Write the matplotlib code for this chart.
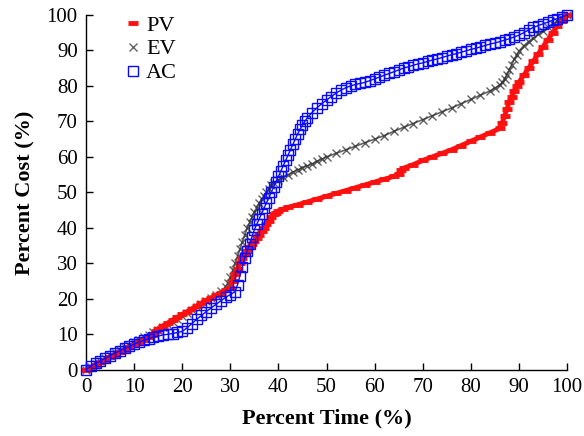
import matplotlib
matplotlib.use("Agg")
import matplotlib.pyplot as plt

# ---- data ----
pv_x = [0, 1, 2, 3, 4, 5, 6, 7, 8, 9, 10, 11, 12, 13, 14, 14.5, 15, 16, 17, 18, 19, 20,
        21, 22, 23, 24, 25, 26, 27, 28, 29, 30, 30.5, 31, 31.5, 32, 32.5, 33, 33.5, 34,
        34.5, 35, 35.5, 36, 36.5, 37, 37.5, 38, 38.5, 39, 39.5, 40, 41, 42, 44, 46, 48,
        50, 52, 54, 56, 58, 60, 62, 64, 65, 65.5, 66, 68, 70, 72, 74, 76, 78, 80, 82, 84,
        86, 86.5, 87, 87.5, 88, 88.5, 89, 89.5, 90, 91, 92, 93, 94, 95, 96, 97, 98, 99, 100]
pv_y = [0, 0.7, 1.4, 2.1, 2.8, 3.5, 4.2, 4.9, 5.6, 6.3, 7, 7.7, 8.4, 9.1, 9.8, 11, 11.6,
        12.4, 13.2, 14, 14.8, 15.6, 16.4, 17.2, 18, 18.8, 19.6, 20.3, 21, 21.7, 22.4, 23,
        25, 27, 28.5, 30, 31.5, 32.5, 33.5, 34.5, 35.5, 36.3, 37, 38, 39, 40, 41, 42, 43,
        43.8, 44.3, 44.8, 45.3, 45.8, 46.5, 47.3, 48.1, 48.9, 49.7, 50.5, 51.3, 52.1, 52.9,
        53.7, 54.5, 55.3, 56.2, 56.8, 57.8, 59, 60, 61, 62, 63.2, 64.4, 65.6, 66.8, 68,
        69.5, 71.5, 73.5, 75.5, 77, 78.5, 80, 81, 83, 85, 87, 89, 91, 93, 95, 96.8, 98.4, 100]

ev_x = [0, 1, 2, 3, 4, 5, 6, 7, 8, 9, 10, 11, 12, 13, 14, 15, 16, 17, 18, 19, 20, 21, 22,
        23, 24, 25, 26, 27, 28, 29, 29.5, 30, 30.5, 31, 31.5, 32, 32.5, 33, 33.5, 34, 34.5,
        35, 35.5, 36, 36.5, 37, 37.5, 38, 38.5, 39, 40, 41, 42, 43, 44, 45, 46, 47, 48, 49,
        50, 52, 54, 56, 58, 60, 62, 64, 66, 68, 70, 72, 74, 76, 78, 80, 82, 84, 85, 86,
        86.5, 87, 87.5, 88, 88.5, 89, 89.5, 90, 91, 92, 93, 94, 95, 96, 97, 98, 99, 100]
ev_y = [0, 0.9, 1.7, 2.5, 3.3, 4.1, 4.9, 5.6, 6.4, 7.1, 7.8, 8.5, 9.2, 9.9, 10.6, 11.3, 12,
        12.7, 13.5, 14.3, 15.1, 15.9, 16.7, 17.6, 18.5, 19.4, 20.3, 21.2, 22.2, 23.3, 24.5,
        26, 28, 30, 32, 34, 36, 38, 40, 41.5, 43, 44.5, 45.7, 47, 48, 49, 50, 51, 52, 52.7,
        53.5, 54.3, 55, 55.7, 56.3, 57, 57.5, 58, 58.7, 59.3, 60, 61, 62, 63, 64, 65, 66,
        67.2, 68.3, 69.4, 70.5, 71.6, 72.7, 73.8, 75, 76.2, 77.4, 78.6, 79.4, 80.2, 81, 82,
        83.2, 84.5, 86, 87.5, 88.7, 89.8, 91.3, 92.5, 93.5, 94.5, 95.5, 96.5, 97.4, 98.3,
        99.2, 100]

ac_x = [0, 1, 2, 3, 4, 5, 6, 7, 8, 9, 10, 11, 12, 13, 14, 15, 16, 17, 18, 19, 20, 21, 22,
        23, 24, 25, 26, 27, 28, 29, 30, 31, 31.5, 32, 32.5, 33, 33.5, 34, 34.5, 35, 35.5,
        36, 36.5, 37, 37.5, 38, 38.5, 39, 39.5, 40, 40.5, 41, 41.5, 42, 42.5, 43, 43.5, 44,
        44.5, 45, 45.5, 46, 47, 48, 49, 50, 51, 52, 53, 54, 55, 56, 57, 58, 59, 60, 61, 62,
        63, 64, 65, 66, 67, 68, 69, 70, 71, 72, 73, 74, 75, 76, 77, 78, 79, 80, 81, 82, 83,
        84, 85, 86, 87, 88, 89, 90, 91, 92, 93, 94, 95, 96, 97, 98, 99, 100]
ac_y = [0, 1, 1.8, 2.5, 3.2, 4, 4.7, 5.3, 6, 6.6, 7.2, 7.8, 8.3, 8.8, 9.2, 9.5, 9.8, 10,
        10.2, 10.5, 10.8, 11.8, 13, 14.2, 15.3, 16.4, 17.4, 18.4, 19.4, 20.4, 21.2, 22, 24,
        26.5, 29, 31.5, 33.5, 35.5, 37.5, 39.5, 41, 42.5, 44, 45.5, 47, 48.5, 50, 51.5, 53,
        54.5, 56, 57.5, 59, 60.5, 62, 63.5, 65, 66.5, 67.8, 69, 70, 71, 72.5, 73.8, 75, 76,
        77, 78, 78.8, 79.5, 80, 80.4, 80.7, 81, 81.5, 82, 82.5, 83, 83.5, 84, 84.5, 85,
        85.4, 85.8, 86.2, 86.5, 86.9, 87.3, 87.6, 88, 88.4, 88.8, 89.1, 89.5, 89.9, 90.3,
        90.6, 91, 91.4, 91.8, 92.1, 92.5, 92.9, 93.3, 93.8, 94.3, 95, 95.8, 96.5, 97, 97.5,
        98, 98.5, 99, 99.5, 100]

x_ticks = [0, 10, 20, 30, 40, 50, 60, 70, 80, 90, 100]
y_ticks = [0, 10, 20, 30, 40, 50, 60, 70, 80, 90, 100]

plt.rcParams['font.family'] = ['Liberation Serif', 'DejaVu Serif']

fig = plt.figure(figsize=(5.84, 4.36), dpi=100)
ax = fig.add_axes([0.1473, 0.152, 0.8237, 0.8137])

ax.plot(pv_x, pv_y, linestyle='-', linewidth=3.5, marker='_', markersize=7, markeredgewidth=3.5,
        color='#ff1010', label='PV', clip_on=False, zorder=3)
ax.plot(ev_x, ev_y, linestyle='-', linewidth=1.2, marker='x', markersize=6, markeredgewidth=1,
        color='#303030', alpha=0.75, label='EV', clip_on=False, zorder=2)
ax.plot(ac_x, ac_y, linestyle='-', linewidth=1, color='#0a0aff', marker='s', markersize=7.5,
        markeredgewidth=1, markerfacecolor='none', markeredgecolor='#0a0aff',
        label='AC', clip_on=False, zorder=4)

ax.set_xlim(0, 100)
ax.set_ylim(0, 100)
ax.set_xticks(x_ticks)
ax.set_yticks(y_ticks)
ax.tick_params(direction='in', length=5, width=1, labelsize=15, pad=6)
ax.spines['top'].set_visible(False)
ax.spines['right'].set_visible(False)
for s in ('left', 'bottom'):
    ax.spines[s].set_linewidth(1)

ax.set_xlabel('Percent Time (%)', fontsize=16, fontweight='bold', labelpad=8)
ax.set_ylabel('Percent Cost (%)', fontsize=16, fontweight='bold', labelpad=8)

leg = ax.legend(loc='upper left', bbox_to_anchor=(0.06, 1.025), frameon=False, fontsize=16,
                handlelength=0.8, handletextpad=0.2, labelspacing=0.15, borderaxespad=0)
for h in leg.legend_handles:
    h.set_linestyle('none')

fig.savefig('out.png', dpi=100)
